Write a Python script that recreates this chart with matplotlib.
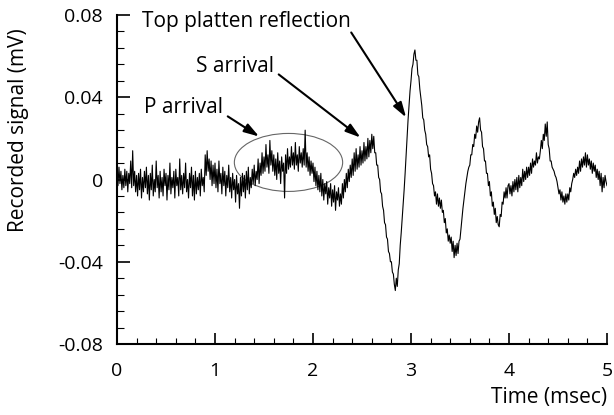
import numpy as np
import matplotlib.pyplot as plt
from matplotlib.patches import Ellipse
from matplotlib.ticker import MultipleLocator

plt.rcParams['font.family'] = ['Open Sans', 'DejaVu Sans']

######## Data (one value every 0.01 msec) #################################

dt_ms = 0.01
signal_mV = [
    0.003, -0.003, 0.006, -0.002, 0.004, -0.005, 0.002, -0.004, 0.005, -0.003,
    0.004, -0.006, 0.003, -0.002, 0.009, -0.004, 0.014, -0.003, 0.004, -0.006,
    0.002, -0.008, 0.003, -0.005, 0.005, -0.009, 0.001, -0.006, 0.004, -0.004,
    0.006, -0.007, 0.002, -0.010, 0.003, -0.005, 0.007, -0.008, 0.000, -0.006,
    0.009, -0.004, 0.002, -0.009, 0.004, -0.006, 0.001, -0.008, 0.005, -0.003,
    0.003, -0.010, 0.002, -0.005, 0.008, -0.007, 0.001, -0.004, 0.004, -0.009,
    0.005, -0.003, 0.001, -0.008, 0.010, -0.005, 0.002, -0.007, 0.003, -0.004,
    0.008, -0.006, 0.000, -0.009, 0.003, -0.004, 0.006, -0.008, 0.002, -0.010,
    0.004, -0.007, 0.001, -0.005, 0.003, -0.008, 0.005, -0.003, 0.001, -0.006,
    0.012, 0.002, 0.014, 0.004, 0.010, 0.000, 0.009, -0.003, 0.007, -0.002,
    0.008, -0.004, 0.005, -0.006, 0.009, -0.002, 0.003, -0.007, 0.006, -0.003,
    0.004, -0.008, 0.002, -0.004, 0.007, -0.006, 0.001, -0.009, 0.003, -0.005,
    0.000, -0.011, 0.002, -0.007, -0.002, -0.014, 0.001, -0.008, 0.003, -0.006,
    0.002, -0.009, 0.004, -0.005, 0.006, -0.007, 0.001, -0.004, 0.005, -0.002,
    0.007, -0.003, 0.004, 0.000, 0.010, -0.002, 0.008, 0.002, 0.013, 0.003,
    0.011, 0.004, 0.017, 0.006, 0.012, 0.003, 0.019, 0.007, 0.014, 0.004,
    0.012, 0.002, 0.010, 0.000, 0.013, 0.003, 0.009, -0.002, 0.011, 0.004,
    0.008, -0.009, 0.012, 0.003, 0.015, 0.005, 0.011, 0.006, 0.016, 0.007,
    0.013, 0.005, 0.018, 0.007, 0.012, 0.004, 0.016, 0.008, 0.013, 0.006,
    0.015, 0.007, 0.024, 0.006, 0.013, 0.004, 0.011, 0.002, 0.009, 0.003,
    0.008, -0.001, 0.006, -0.003, 0.004, -0.005, 0.002, -0.006, 0.003, -0.008,
    0.000, -0.010, -0.002, -0.007, -0.001, -0.012, -0.004, -0.009, -0.002, -0.013,
    -0.005, -0.011, -0.003, -0.015, -0.006, -0.010, -0.004, -0.013, -0.007, -0.012,
    -0.002, -0.009, 0.000, -0.006, 0.003, -0.004, 0.005, -0.001, 0.007, 0.001,
    0.010, 0.002, 0.013, 0.004, 0.015, 0.005, 0.012, 0.006, 0.016, 0.007,
    0.014, 0.008, 0.018, 0.009, 0.016, 0.010, 0.020, 0.011, 0.019, 0.013,
    0.022, 0.015, 0.021, 0.013, 0.013, 0.007, 0.007, 0.001, 0.000, -0.006,
    -0.007, -0.013, -0.015, -0.021, -0.022, -0.028, -0.029, -0.035, -0.036, -0.040,
    -0.040, -0.045, -0.046, -0.051, -0.054, -0.048, -0.052, -0.044, -0.041, -0.032,
    -0.026, -0.019, -0.012, -0.005, 0.003, 0.012, 0.020, 0.029, 0.036, 0.043,
    0.048, 0.054, 0.056, 0.061, 0.063, 0.058, 0.058, 0.051, 0.050, 0.044,
    0.040, 0.036, 0.030, 0.029, 0.024, 0.022, 0.017, 0.016, 0.011, 0.012,
    0.005, 0.003, -0.002, -0.003, -0.008, -0.006, -0.012, -0.007, -0.013, -0.009,
    -0.014, -0.010, -0.016, -0.015, -0.021, -0.019, -0.026, -0.024, -0.030, -0.027,
    -0.031, -0.028, -0.035, -0.030, -0.038, -0.032, -0.037, -0.031, -0.036, -0.030,
    -0.029, -0.024, -0.019, -0.014, -0.010, -0.006, -0.002, 0.001, 0.004, 0.006,
    0.007, 0.012, 0.012, 0.017, 0.016, 0.022, 0.020, 0.026, 0.023, 0.028,
    0.030, 0.024, 0.023, 0.016, 0.015, 0.009, 0.009, 0.003, 0.003, -0.003,
    -0.001, -0.008, -0.006, -0.013, -0.011, -0.017, -0.014, -0.021, -0.018, -0.022,
    -0.023, -0.017, -0.018, -0.011, -0.012, -0.006, -0.009, -0.004, -0.009, -0.003,
    -0.002, -0.007, -0.003, -0.008, -0.001, -0.006, 0.000, -0.005, 0.001, -0.006,
    0.002, -0.004, 0.001, -0.003, 0.005, -0.001, 0.004, 0.000, 0.006, 0.001,
    0.006, 0.002, 0.008, 0.003, 0.010, 0.006, 0.009, 0.007, 0.013, 0.008,
    0.011, 0.010, 0.014, 0.019, 0.015, 0.022, 0.019, 0.027, 0.021, 0.028,
    0.017, 0.015, 0.009, 0.009, 0.006, 0.005, 0.004, 0.002, 0.001, -0.001,
    -0.004, -0.007, -0.005, -0.010, -0.006, -0.011, -0.008, -0.012, -0.007, -0.011,
    -0.007, -0.010, -0.004, -0.006, -0.002, 0.000, 0.003, 0.001, 0.005, 0.002,
    0.006, 0.003, 0.009, 0.004, 0.010, 0.006, 0.011, 0.007, 0.013, 0.006,
    0.012, 0.007, 0.010, 0.005, 0.009, 0.003, 0.008, 0.004, 0.007, 0.001,
    0.005, 0.000, 0.004, -0.003, 0.003, -0.006, 0.001, -0.004, 0.002, -0.001,
    -0.003,
]
time_ms = np.arange(len(signal_mV)) * dt_ms

x_ticks = [0, 1, 2, 3, 4, 5]
y_ticks = [-0.08, -0.04, 0, 0.04, 0.08]
y_tick_labels = ['-0.08', '-0.04', '0', '0.04', '0.08']

# annotation text, (tail, tip) of each arrow
labels = ['Top platten reflection', 'S arrival', 'P arrival']
label_pos = [(0.26, 0.0769), (0.81, 0.055), (0.28, 0.035)]
arrow_tails = [(2.39, 0.0715), (1.65, 0.0511), (1.13, 0.0307)]
arrow_tips = [(2.95, 0.0302), (2.485, 0.0204), (1.45, 0.0209)]

######## Plot ##############

fig = plt.figure(figsize=(6.14, 4.15), dpi=100)
ax = fig.add_axes([117/614, 1 - 344/415, 490/614, 329/415])

ax.plot(time_ms, signal_mV, color='black', lw=0.8)

ax.add_patch(Ellipse((1.75, 0.0083), 1.105, 0.0282, fill=False,
                     edgecolor='#666666', lw=0.8))

for txt, pos in zip(labels, label_pos):
    ax.text(pos[0], pos[1], txt, fontsize=15, ha='left', va='center')
for tail, tip in zip(arrow_tails, arrow_tips):
    ax.annotate('', xy=tip, xytext=tail,
                arrowprops=dict(arrowstyle='-|>,head_length=0.9,head_width=0.28',
                                color='black', lw=1.5, shrinkA=0, shrinkB=0))

ax.set_xlim(0, 5)
ax.set_ylim(-0.08, 0.08)
ax.set_xticks(x_ticks)
ax.set_yticks(y_ticks)
ax.set_yticklabels(y_tick_labels)
ax.xaxis.set_minor_locator(MultipleLocator(0.2))
ax.yaxis.set_minor_locator(MultipleLocator(0.008))

for side in ['top', 'right']:
    ax.spines[side].set_visible(False)
for side in ['left', 'bottom']:
    ax.spines[side].set_linewidth(1.5)

ax.tick_params(which='both', direction='in', width=1.2, labelsize=14)
ax.tick_params(axis='y', which='major', length=9, pad=10)
ax.tick_params(axis='y', which='minor', length=5, width=0.8)
ax.tick_params(axis='x', which='major', length=8, pad=13)
ax.tick_params(axis='x', which='minor', length=4, width=0.8)

ax.set_ylabel('Recorded signal (mV)', fontsize=15)
ax.yaxis.set_label_coords(-0.18, 0.65)
ax.set_xlabel('Time (msec)', fontsize=15, ha='right', va='center')
ax.xaxis.set_label_coords(1.0, -0.164)

plt.savefig('out.png', dpi=100)
